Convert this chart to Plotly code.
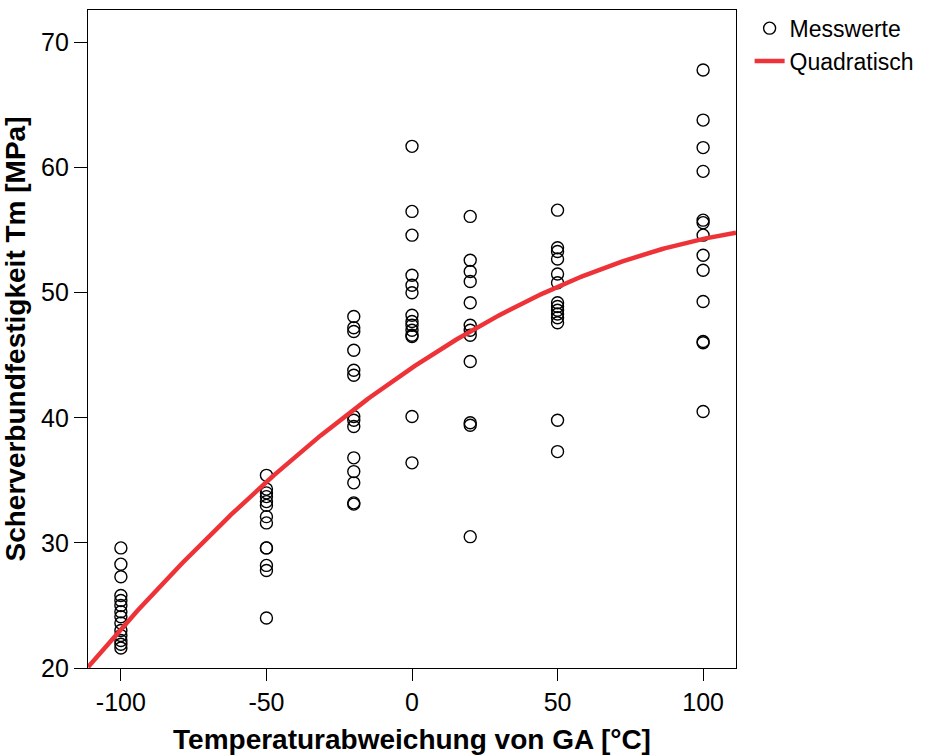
import plotly.graph_objects as go
import numpy as np

# Measured shear bond strength per temperature deviation group
temp_m100 = [29.6, 28.3, 27.3, 25.8, 25.4, 25.0, 24.5, 24.1, 23.6, 23.0, 22.6, 22.2, 21.9, 21.6]
temp_m50 = [35.4, 34.3, 34.0, 33.7, 33.3, 33.0, 32.1, 31.6, 29.6, 29.6, 28.2, 27.8, 24.0]
temp_m20 = [48.1, 47.2, 46.9, 45.4, 43.8, 43.4, 40.1, 39.8, 39.3, 36.8, 35.7, 34.8, 33.2, 33.1]
temp_0 = [61.7, 56.5, 54.6, 51.4, 50.6, 50.0, 48.2, 47.7, 47.4, 47.0, 46.6, 46.5, 40.1, 36.4]
temp_20 = [56.1, 52.6, 51.7, 50.9, 49.2, 47.4, 47.0, 46.6, 44.5, 39.6, 39.4, 30.5]
temp_50 = [56.6, 53.6, 53.3, 52.7, 51.5, 50.8, 49.2, 48.9, 48.6, 48.3, 48.0, 47.6, 39.8, 37.3]
temp_100 = [67.8, 63.8, 61.6, 59.7, 55.8, 55.6, 54.6, 53.0, 51.8, 49.3, 46.1, 46.0, 40.5]

group_x = [-100, -50, -20, 0, 20, 50, 100]
group_y = [temp_m100, temp_m50, temp_m20, temp_0, temp_20, temp_50, temp_100]

# Quadratic model: a + b*x + c*x^2
quad_coef = [44.0, 0.156, -0.00053]

x_ticks = [-100, -50, 0, 50, 100]
x_ticklabels = ["-100", "-50", "0", "50", "100"]
y_ticks = [20, 30, 40, 50, 60, 70]
y_ticklabels = ["20", "30", "40", "50", "60", "70"]

xs, ys = [], []
for gx, gy in zip(group_x, group_y):
    xs += [gx] * len(gy)
    ys += gy

x_range = [-111.3, 111.3]
y_range = [20, 72.6]

xc = np.linspace(x_range[0], x_range[1], 300)
yc = quad_coef[0] + quad_coef[1] * xc + quad_coef[2] * xc ** 2

FONT = "Liberation Sans, Arial, sans-serif"

fig = go.Figure()
fig.add_trace(go.Scatter(
    x=xs, y=ys, mode="markers", name="Messwerte",
    marker=dict(symbol="circle-open", size=12, color="black", line=dict(width=1.4, color="black")),
))
fig.add_trace(go.Scatter(
    x=xc, y=yc, mode="lines", name="Quadratisch",
    line=dict(color="#EE3338", width=4.5),
))

fig.update_layout(
    width=933, height=755,
    margin=dict(l=88, r=197, t=10, b=87, autoexpand=False),
    paper_bgcolor="white", plot_bgcolor="white",
    font=dict(family=FONT, size=25, color="black"),
    showlegend=True,
    legend=dict(
        x=1.021, y=1.005, xanchor="left", yanchor="top",
        font=dict(family=FONT, size=23, color="black"),
        bgcolor="rgba(0,0,0,0)", tracegroupgap=0, itemwidth=30,
    ),
    xaxis=dict(
        range=x_range, tickvals=x_ticks, ticktext=x_ticklabels,
        showgrid=False, zeroline=False, showline=True, linecolor="black", linewidth=1.3,
        mirror=True, ticks="outside", ticklen=12, tickcolor="black", tickwidth=1.3,
        tickfont=dict(size=25), automargin=False,
        title=dict(text="<b>Temperaturabweichung von GA [°C]</b>", font=dict(size=28), standoff=16),
    ),
    yaxis=dict(
        range=y_range, tickvals=y_ticks, ticktext=y_ticklabels,
        showgrid=False, zeroline=False, showline=True, linecolor="black", linewidth=1.3,
        mirror=True, ticks="outside", ticklen=13, tickcolor="black", tickwidth=1.3,
        tickfont=dict(size=25), automargin=False,
        title=dict(text="<b>Scherverbundfestigkeit Tm [MPa]</b>", font=dict(size=28), standoff=8),
    ),
)

fig.write_html("out.html")
